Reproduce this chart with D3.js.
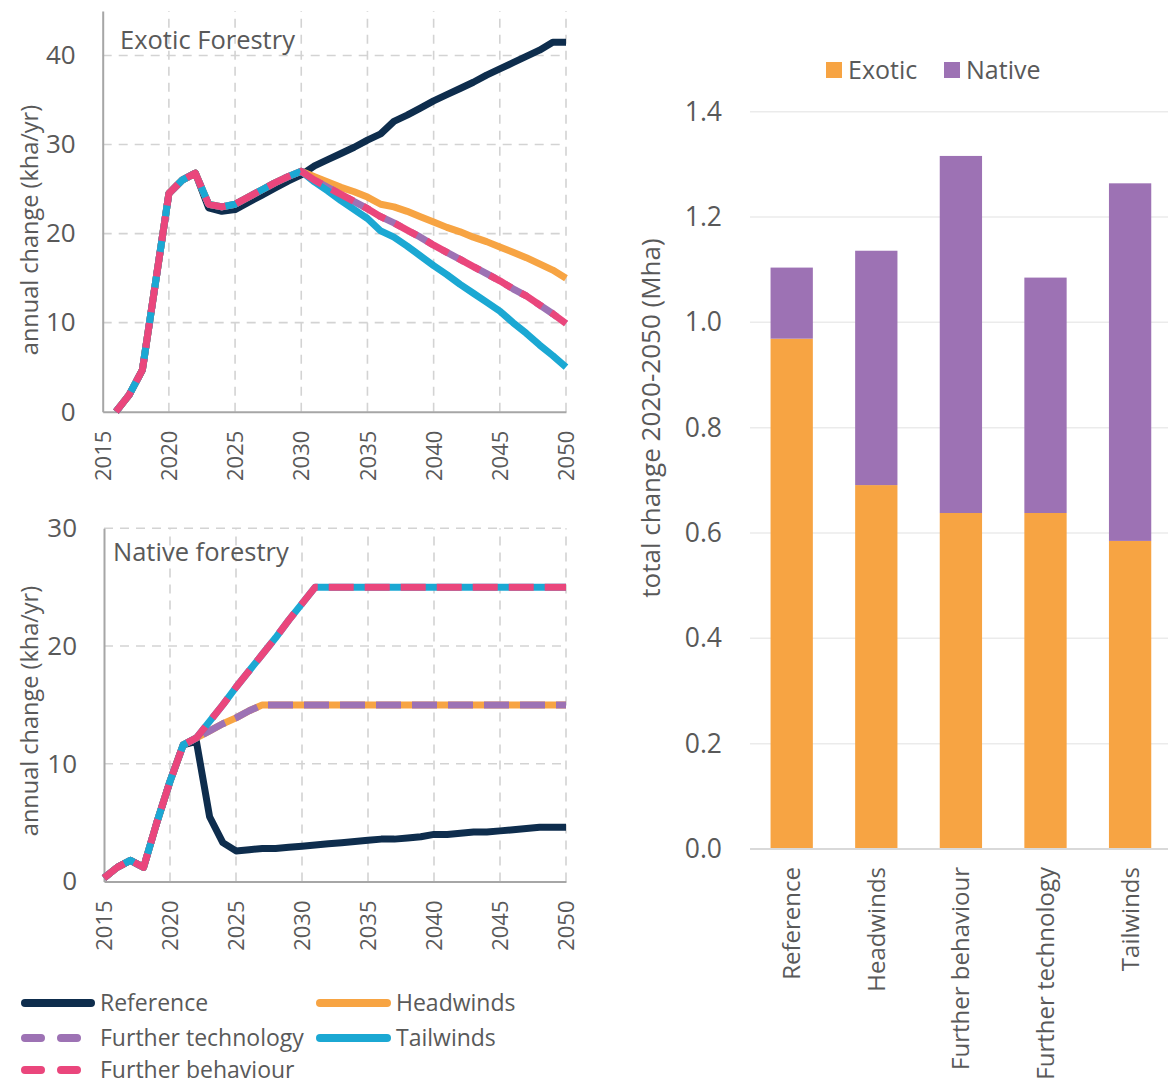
<!DOCTYPE html>
<html>
<head>
<meta charset="utf-8">
<script src="https://cdn.jsdelivr.net/npm/d3@7"></script>
<style>
  body { margin: 0; background: #fff; }
  svg { display: block; font-family: "Open Sans", sans-serif; }
</style>
</head>
<body>
<svg id="chart" width="1168" height="1086"></svg>
<script>
// ---- scenarios ----
const scenarios = ["Reference", "Headwinds", "Further technology", "Tailwinds", "Further behaviour"];
const scenarioColors = ["#0e2d4d", "#f7a443", "#9d72b4", "#1ba8d3", "#ea467c"];
const dashedScenarios = ["Further technology", "Further behaviour"];

// ---- exotic forestry, annual change (kha/yr), 2016-2050 ----
const exoticYears = d3.range(2016, 2051);
const exoticReference = [0, 1.9, 4.7, 14.6, 24.5, 26.0, 26.8, 22.9, 22.5, 22.7, 23.5, 24.3, 25.1, 25.9, 26.6,
  27.6, 28.3, 29.0, 29.7, 30.5, 31.2, 32.6, 33.3, 34.1, 34.9, 35.6, 36.3, 37.0, 37.8, 38.5, 39.2, 39.9, 40.6, 41.5, 41.5];
const exoticHeadwinds = [0, 1.9, 4.7, 14.6, 24.5, 26.0, 26.8, 23.3, 23.0, 23.3, 24.1, 24.9, 25.7, 26.4, 27.0,
  26.4, 25.8, 25.2, 24.7, 24.1, 23.3, 23.0, 22.5, 21.9, 21.3, 20.7, 20.2, 19.6, 19.1, 18.5, 17.9, 17.3, 16.6, 15.9, 15.0];
const exoticTechnology = [0, 1.9, 4.7, 14.6, 24.5, 26.0, 26.8, 23.3, 23.0, 23.3, 24.1, 24.9, 25.7, 26.4, 27.0,
  26.0, 25.2, 24.4, 23.6, 22.8, 21.9, 21.2, 20.4, 19.6, 18.7, 17.9, 17.1, 16.3, 15.5, 14.7, 13.8, 13.0, 12.0, 11.0, 9.9];
const exoticTailwinds = [0, 1.9, 4.7, 14.6, 24.5, 26.0, 26.8, 23.3, 23.0, 23.3, 24.1, 24.9, 25.7, 26.4, 27.0,
  25.8, 24.8, 23.7, 22.7, 21.7, 20.3, 19.6, 18.6, 17.5, 16.4, 15.4, 14.3, 13.3, 12.3, 11.3, 10.0, 8.8, 7.5, 6.3, 5.0];
const exoticBehaviour = [0, 1.9, 4.7, 14.6, 24.5, 26.0, 26.8, 23.3, 23.0, 23.3, 24.1, 24.9, 25.7, 26.4, 27.0,
  26.0, 25.2, 24.4, 23.6, 22.8, 21.9, 21.2, 20.4, 19.6, 18.7, 17.9, 17.1, 16.3, 15.5, 14.7, 13.8, 13.0, 12.0, 11.0, 9.9];

// ---- native forestry, annual change (kha/yr), 2015-2050 ----
const nativeYears = d3.range(2015, 2051);
const nativeReference = [0.3, 1.2, 1.8, 1.2, 5.0, 8.5, 11.6, 11.9, 5.5, 3.3, 2.6, 2.7, 2.8, 2.8, 2.9, 3.0,
  3.1, 3.2, 3.3, 3.4, 3.5, 3.6, 3.6, 3.7, 3.8, 4.0, 4.0, 4.1, 4.2, 4.2, 4.3, 4.4, 4.5, 4.6, 4.6, 4.6];
const nativeHeadwinds = [0.3, 1.2, 1.8, 1.2, 5.0, 8.5, 11.6, 12.2, 12.8, 13.4, 13.9, 14.5, 15, 15, 15, 15,
  15, 15, 15, 15, 15, 15, 15, 15, 15, 15, 15, 15, 15, 15, 15, 15, 15, 15, 15, 15];
const nativeTechnology = [0.3, 1.2, 1.8, 1.2, 5.0, 8.5, 11.6, 12.2, 12.8, 13.4, 13.9, 14.5, 15, 15, 15, 15,
  15, 15, 15, 15, 15, 15, 15, 15, 15, 15, 15, 15, 15, 15, 15, 15, 15, 15, 15, 15];
const nativeTailwinds = [0.3, 1.2, 1.8, 1.2, 5.0, 8.5, 11.6, 12.2, 13.6, 15.0, 16.5, 17.9, 19.3, 20.7, 22.2, 23.6,
  25, 25, 25, 25, 25, 25, 25, 25, 25, 25, 25, 25, 25, 25, 25, 25, 25, 25, 25, 25];
const nativeBehaviour = [0.3, 1.2, 1.8, 1.2, 5.0, 8.5, 11.6, 12.2, 13.6, 15.0, 16.5, 17.9, 19.3, 20.7, 22.2, 23.6,
  25, 25, 25, 25, 25, 25, 25, 25, 25, 25, 25, 25, 25, 25, 25, 25, 25, 25, 25, 25];

// ---- total change 2020-2050 (Mha), stacked ----
const barCategories = ["Reference", "Headwinds", "Further behaviour", "Further technology", "Tailwinds"];
const totalExotic = [0.969, 0.691, 0.638, 0.638, 0.585];
const totalNative = [0.135, 0.445, 0.678, 0.447, 0.679];
const stackKeys = ["Exotic", "Native"];
const stackColors = ["#f7a443", "#9d72b4"];

const yearTicks = [2015, 2020, 2025, 2030, 2035, 2040, 2045, 2050];
const barTicks = [0, 0.2, 0.4, 0.6, 0.8, 1.0, 1.2, 1.4];

const textColor = "#595959";
const svg = d3.select("#chart");

function drawPanel(cfg) {
  const g = svg.append("g");
  const x = d3.scaleLinear().domain([2015, 2050]).range([cfg.left, cfg.right]);
  const y = d3.scaleLinear().domain([0, cfg.yMax]).range([cfg.bottom, cfg.top]);

  // dashed grid
  g.append("g").selectAll("line").data(cfg.yTicks.filter(d => d > 0)).join("line")
    .attr("x1", cfg.left).attr("x2", cfg.right)
    .attr("y1", d => y(d)).attr("y2", d => y(d))
    .attr("stroke", "#d3d3d3").attr("stroke-width", 1.6).attr("stroke-dasharray", "9,7");
  g.append("g").selectAll("line").data(yearTicks.filter(d => d > 2015)).join("line")
    .attr("x1", d => x(d)).attr("x2", d => x(d))
    .attr("y1", cfg.bottom).attr("y2", cfg.top)
    .attr("stroke", "#d3d3d3").attr("stroke-width", 1.6).attr("stroke-dasharray", "9,7");

  // axes
  const yAxis = g.append("g").attr("transform", `translate(${cfg.left},0)`)
    .call(d3.axisLeft(y).tickValues(cfg.yTicks).tickSize(0).tickPadding(27).tickFormat(d3.format("d")));
  yAxis.select(".domain").attr("stroke", "#a6a6a6").attr("stroke-width", 2);
  yAxis.selectAll("text").attr("fill", textColor).style("font-size", "26px")
    .style("font-family", '"Open Sans", sans-serif');

  const xAxis = g.append("g").attr("transform", `translate(0,${cfg.bottom})`)
    .call(d3.axisBottom(x).tickValues(yearTicks).tickSize(0).tickFormat(d3.format("d")));
  xAxis.select(".domain").attr("stroke", "#a6a6a6").attr("stroke-width", 2);
  xAxis.selectAll("text")
    .attr("fill", textColor).style("font-size", "22px").style("font-family", '"Open Sans", sans-serif')
    .attr("text-anchor", "end").attr("dy", "0.35em").attr("y", 0)
    .attr("transform", "translate(0,19) rotate(-90)");

  // series
  const line = d3.line().x(d => x(d[0])).y(d => y(d[1]));
  cfg.series.forEach((vals, i) => {
    const name = scenarios[i];
    const pts = cfg.years.map((yr, k) => [yr, vals[k]]);
    const p = g.append("path").datum(pts).attr("d", line)
      .attr("fill", "none").attr("stroke", scenarioColors[i]).attr("stroke-width", 7)
      .attr("stroke-linejoin", "round");
    if (dashedScenarios.includes(name)) {
      p.attr("stroke-dasharray", "25,11");
      if (name === "Further technology") p.attr("stroke-dashoffset", 18);
    }
  });

  // title
  g.append("text").attr("x", cfg.titleX).attr("y", cfg.titleY).attr("fill", textColor)
    .style("font-size", "25.5px").attr("dy", "0.35em").text(cfg.title);

  // y label
  g.append("text").attr("transform", `translate(${cfg.yLabelX},${cfg.yLabelY}) rotate(-90)`)
    .attr("text-anchor", "middle").attr("fill", textColor).style("font-size", "23.5px")
    .text("annual change (kha/yr)");
}

// draw order: reference, headwinds, technology, tailwinds, behaviour
function ordered(ref, head, tech, tail, beh) { return [ref, head, tech, tail, beh]; }

drawPanel({
  left: 102.7, right: 566, top: 11, bottom: 411.7, yMax: 45, yTicks: [0, 10, 20, 30, 40],
  years: exoticYears,
  series: ordered(exoticReference, exoticHeadwinds, exoticTechnology, exoticTailwinds, exoticBehaviour),
  title: "Exotic Forestry", titleX: 120, titleY: 40, yLabelX: 38, yLabelY: 230
});
drawPanel({
  left: 104, right: 566, top: 528.3, bottom: 881.5, yMax: 30, yTicks: [0, 10, 20, 30],
  years: nativeYears,
  series: ordered(nativeReference, nativeHeadwinds, nativeTechnology, nativeTailwinds, nativeBehaviour),
  title: "Native forestry", titleX: 113, titleY: 552, yLabelX: 38, yLabelY: 711
});

// ---- line legend ----
const legendItems = [
  { name: "Reference", col: 0, row: 0 },
  { name: "Headwinds", col: 1, row: 0 },
  { name: "Further technology", col: 0, row: 1 },
  { name: "Tailwinds", col: 1, row: 1 },
  { name: "Further behaviour", col: 0, row: 2 }
];
const legendRows = [1003, 1038, 1070];
const legendCols = [{ x1: 25, x2: 91, tx: 100 }, { x1: 320, x2: 387, tx: 396 }];
const lg = svg.append("g");
legendItems.forEach(it => {
  const c = legendCols[it.col], yy = legendRows[it.row];
  const i = scenarios.indexOf(it.name);
  const dashed = dashedScenarios.includes(it.name);
  lg.append("line").attr("x1", c.x1).attr("x2", dashed ? 87 : c.x2).attr("y1", yy).attr("y2", yy)
    .attr("stroke", scenarioColors[i]).attr("stroke-width", 8).attr("stroke-linecap", "round")
    .attr("stroke-dasharray", dashed ? "16,20" : null);
  lg.append("text").attr("x", c.tx).attr("y", yy).attr("dy", "0.35em").attr("fill", textColor)
    .style("font-size", "23px").text(it.name);
});

// ---- stacked bar chart ----
const bx = d3.scaleBand().domain(barCategories).range([749.4, 1172.4]).paddingInner(0.5).paddingOuter(0.25);
const by = d3.scaleLinear().domain([0, 1.4]).range([849, 111.7]);
const bg = svg.append("g");

bg.append("g").selectAll("line").data(barTicks.filter(d => d > 0)).join("line")
  .attr("x1", 750).attr("x2", 1168).attr("y1", d => by(d)).attr("y2", d => by(d))
  .attr("stroke", "#ebebeb").attr("stroke-width", 1.5);

const stackData = barCategories.map((c, i) => ({ cat: c, Exotic: totalExotic[i], Native: totalNative[i] }));
const stacked = d3.stack().keys(stackKeys)(stackData);
bg.append("g").selectAll("g").data(stacked).join("g")
  .attr("fill", (d, i) => stackColors[i])
  .selectAll("rect").data(d => d).join("rect")
  .attr("x", d => bx(d.data.cat)).attr("width", bx.bandwidth())
  .attr("y", d => by(d[1])).attr("height", d => by(d[0]) - by(d[1]));

const byAxis = bg.append("g").attr("transform", "translate(750,0)")
  .call(d3.axisLeft(by).tickValues(barTicks).tickSize(0).tickPadding(28).tickFormat(d3.format(".1f")));
byAxis.select(".domain").remove();
byAxis.selectAll("text").attr("fill", textColor).style("font-size", "26.5px")
  .style("font-family", '"Open Sans", sans-serif');

bg.append("line").attr("x1", 750).attr("x2", 1168).attr("y1", by(0)).attr("y2", by(0))
  .attr("stroke", "#d9d9d9").attr("stroke-width", 2);

const bxAxis = bg.append("g").attr("transform", `translate(0,${by(0)})`)
  .call(d3.axisBottom(bx).tickSize(0));
bxAxis.select(".domain").remove();
bxAxis.selectAll("text").attr("fill", textColor).style("font-size", "24px")
  .style("font-family", '"Open Sans", sans-serif')
  .attr("text-anchor", "end").attr("dy", "0.35em").attr("y", 0)
  .attr("transform", "translate(0,18) rotate(-90)");

bg.append("text").attr("transform", "translate(660,418) rotate(-90)")
  .attr("text-anchor", "middle").attr("fill", textColor).style("font-size", "26px")
  .text("total change 2020-2050 (Mha)");

// bar legend
const blx = [826, 944];
stackKeys.forEach((k, i) => {
  bg.append("rect").attr("x", blx[i]).attr("y", 62).attr("width", 16).attr("height", 16).attr("fill", stackColors[i]);
  bg.append("text").attr("x", blx[i] + 22).attr("y", 70).attr("dy", "0.35em").attr("fill", textColor)
    .style("font-size", "25px").text(k);
});
</script>
</body>
</html>
